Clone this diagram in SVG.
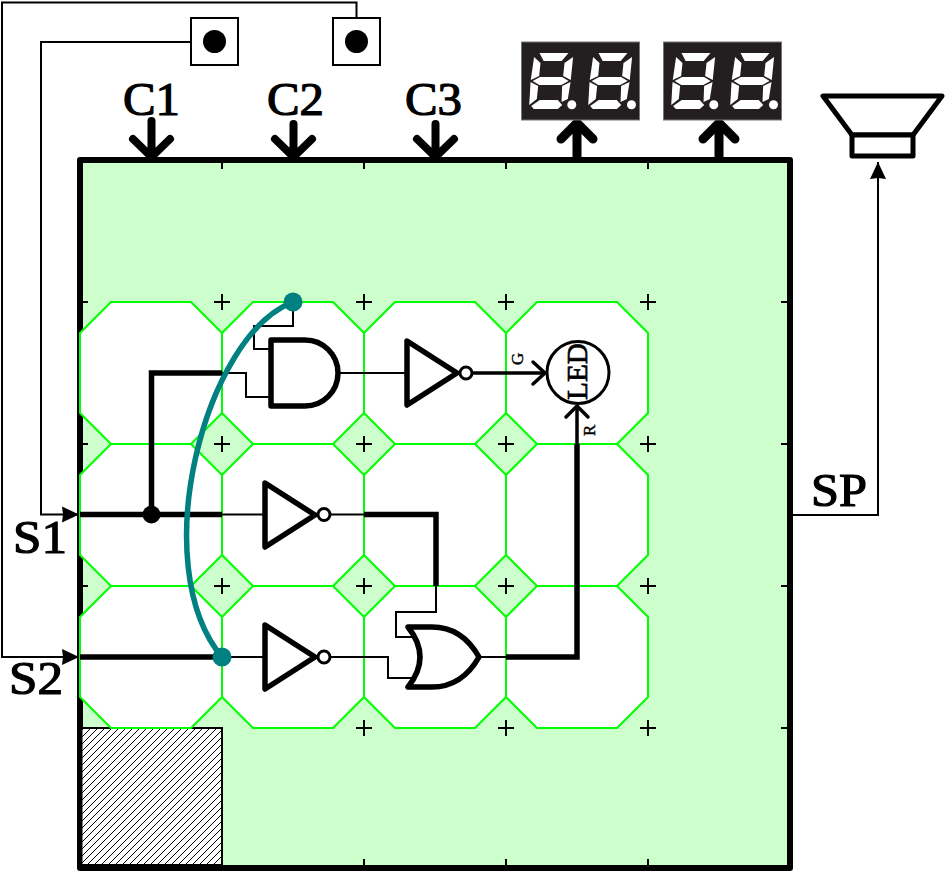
<svg xmlns="http://www.w3.org/2000/svg" xmlns:xlink="http://www.w3.org/1999/xlink" width="945" height="872" viewBox="0 0 945 872">
<style>
.t{font-family:"Liberation Serif","Times New Roman",serif;fill:#000;stroke:#000;stroke-width:1.2}
.oct{fill:#fff;stroke:#00ff00;stroke-width:2}
.w{fill:none;stroke:#000;stroke-width:2}
.m{fill:none;stroke:#000;stroke-width:3.5}
.b{fill:none;stroke:#000;stroke-width:5.5}
.big{fill:none;stroke:#000;stroke-width:8;stroke-linecap:round;stroke-linejoin:round}
.big2{fill:none;stroke:#000;stroke-width:9;stroke-linecap:round;stroke-linejoin:round}
.gate{fill:#fff;stroke:#000;stroke-width:5.5;stroke-linejoin:round}
.bub{fill:#fff;stroke:#000;stroke-width:3}
.tick{stroke:#000;stroke-width:2;fill:none}
.seg{fill:#fff}
</style>
<defs>
<pattern id="hatch" patternUnits="userSpaceOnUse" width="7" height="7">
<rect width="7" height="7" fill="#fff"/>
<path d="M-1,1 L1,-1 M0,7 L7,0 M6,8 L8,6" stroke="#000" stroke-width="1"/>
</pattern>
<marker id="solid" markerUnits="userSpaceOnUse" markerWidth="18" markerHeight="18" refX="17" refY="9" orient="auto">
<path d="M0,1 L17,9 L0,17 L1,9 Z" fill="#000"/>
</marker>
<polygon id="oc" class="oct" points="31,0 111,0 142,31 142,111 111,142 31,142 0,111 0,31"/>
<g id="digit" class="seg">
<polygon points="6,0 35,0 29,8 11,8"/>
<polygon points="1,4 8,10 8,23 0,27"/>
<polygon points="40,4 40,27 32,23 32,10"/>
<polygon points="2,28 9,24 31,24 38,28 31,32 9,32"/>
<polygon points="0,29 8,33 8,46 1,52"/>
<polygon points="40,29 39,46 33,49 32,33"/>
<polygon points="11,47 29,47 34,52 30,56 6,56 3,53"/>
</g>
<g id="display">
<rect x="0" y="0" width="118" height="78" fill="#231f20" stroke="#777" stroke-width="1"/>
<use xlink:href="#digit" href="#digit" transform="translate(12,11) skewX(-5.8)"/>
<use xlink:href="#digit" href="#digit" transform="translate(71,11) skewX(-5.8)"/>
<circle cx="50.300" cy="62.700" r="4.500" fill="#fff"/>
<circle cx="110" cy="62.700" r="4.500" fill="#fff"/>
</g>
<polygon id="inv" class="gate" points="0,-32 50,0 0,32"/>
</defs>

<g id="board">
<rect x="80" y="160" width="710" height="708" fill="#ccffcc" stroke="#000" stroke-width="6" stroke-linejoin="round"/>
<rect x="80" y="728" width="142" height="140" fill="url(#hatch)" stroke="#000" stroke-width="2"/>
<path d="M80,866.500H222M80,160V868" fill="none" stroke="#000" stroke-width="5"/>
</g>
<g id="cells">
<use href="#oc" x="80" y="302"/><use href="#oc" x="222" y="302"/><use href="#oc" x="364" y="302"/><use href="#oc" x="506" y="302"/>
<use href="#oc" x="80" y="444"/><use href="#oc" x="222" y="444"/><use href="#oc" x="364" y="444"/><use href="#oc" x="506" y="444"/>
<use href="#oc" x="80" y="586"/><use href="#oc" x="222" y="586"/><use href="#oc" x="364" y="586"/><use href="#oc" x="506" y="586"/>
</g>
<g id="grid-marks">
<path class="tick" d="M214,302h16M222,294v16M356,302h16M364,294v16M498,302h16M506,294v16M640,302h16M648,294v16
M214,444h16M222,436v16M356,444h16M364,436v16M498,444h16M506,436v16M640,444h16M648,436v16
M214,586h16M222,578v16M356,586h16M364,578v16M498,586h16M506,578v16M640,586h16M648,578v16
M356,728h16M364,720v16M498,728h16M506,720v16M640,728h16M648,720v16
M222,160v9M364,160v9M506,160v9M648,160v9
M80,302h8M80,444h8M80,586h8
M781,302h9M781,444h9M781,586h9M781,728h9
M364,868v-9M506,868v-9M648,868v-9"/>
</g>

<g id="connectors">
<path class="w" d="M191,42H41V514.500H79" marker-end="url(#solid)"/>
<path class="w" d="M356.500,18V2.500H2V657H79" marker-end="url(#solid)"/>
<path class="b" d="M80,514.500H222M151.500,514.500V373H222"/>
<path class="b" d="M80,657H222"/>
<path class="w" d="M222,514.500H265M330,514.500H364"/>
<path class="b" d="M364,514.500H436V586"/>
<path class="w" d="M436,586V612H396V637H412"/>
<path class="w" d="M222,657H265M330,657H364"/>
<path class="w" d="M364,657H388V678H412"/>
<path class="w" d="M480,657H506"/>
<path class="b" d="M506,657H577V444"/>
<path class="m" d="M577,444V406"/>
<path class="m" stroke-linecap="round" stroke-linejoin="round" d="M566,417L577,406L588,417"/>
<path class="w" d="M222,373H246V397H271"/>
<path class="w" d="M293,302V326H254V349H271"/>
<path class="w" d="M338,373H407"/>
<path class="m" d="M472,373H545"/>
<path class="m" stroke-linecap="round" stroke-linejoin="round" d="M533,362L545,373L533,384"/>
<path class="big" d="M151.500,121V157M133,139L151.500,157L170,139"/>
<path class="big" d="M293.500,124V157M275,139L293.500,157L312,139"/>
<path class="big" d="M435.500,124V157M417,139L435.500,157L454,139"/>
<path class="big2" d="M577,157V123M561,139L577,123L593,139"/>
<path class="big2" d="M719,157V123M703,139L719,123L735,139"/>
<path class="w" d="M790,515H878V162" marker-end="url(#solid)"/>
<path fill="none" stroke="#008080" stroke-width="5.500" d="M293,302C205,335 145,565 222,657"/>
<circle cx="151.500" cy="514.500" r="9" fill="#000"/>
<circle cx="293" cy="302" r="9.500" fill="#008080"/>
<circle cx="222" cy="657" r="9.500" fill="#008080"/>
</g>

<g id="btn1"><rect x="191" y="18" width="47" height="47" fill="#fff" stroke="#000" stroke-width="2"/><circle cx="214.500" cy="41.500" r="11.500" fill="#000"/></g>
<g id="btn2"><rect x="333" y="18" width="47" height="47" fill="#fff" stroke="#000" stroke-width="2"/><circle cx="356.500" cy="41.500" r="11.500" fill="#000"/></g>
<g id="disp1"><use href="#display" x="521.500" y="42"/></g>
<g id="disp2"><use href="#display" x="663.500" y="42"/></g>
<g id="speaker"><path d="M823,96H942L913,135H852Z" fill="#fff" stroke="#000" stroke-width="5" stroke-linejoin="round"/><rect x="852" y="135" width="61" height="21" fill="#fff" stroke="#000" stroke-width="5" stroke-linejoin="round"/></g>

<g id="and1"><path class="gate" d="M271,340H305A33,33 0 0 1 305,406H271Z"/></g>
<g id="not1"><use href="#inv" x="407" y="373"/><circle class="bub" cx="466" cy="373" r="6"/></g>
<g id="not2"><use href="#inv" x="265" y="515"/><circle class="bub" cx="324" cy="514.500" r="6"/></g>
<g id="not3"><use href="#inv" x="265" y="657"/><circle class="bub" cx="324" cy="657" r="6"/></g>
<g id="or1"><path class="gate" d="M408,627Q432,657 408,687H432Q462,687 479,657Q462,627 432,627Z"/></g>
<g id="led"><circle cx="578" cy="372.500" r="31" fill="#fff" stroke="#000" stroke-width="3"/>
<text class="t" font-size="29" textLength="57" lengthAdjust="spacingAndGlyphs" transform="translate(587,400) rotate(-90)" style="stroke-width:.7">LED</text></g>

<g id="labels">
<text class="t" font-size="47" x="123" y="115" textLength="57" lengthAdjust="spacingAndGlyphs">C1</text>
<text class="t" font-size="47" x="267" y="115" textLength="57" lengthAdjust="spacingAndGlyphs">C2</text>
<text class="t" font-size="47" x="405" y="115" textLength="57" lengthAdjust="spacingAndGlyphs">C3</text>
<text class="t" font-size="47" x="13" y="553" textLength="54" lengthAdjust="spacingAndGlyphs">S1</text>
<text class="t" font-size="47" x="9" y="694" textLength="54" lengthAdjust="spacingAndGlyphs">S2</text>
<text class="t" font-size="47" x="811" y="506" textLength="56" lengthAdjust="spacingAndGlyphs">SP</text>
<text class="t" font-size="17" transform="translate(523,365) rotate(-90)" style="stroke-width:.4">G</text>
<text class="t" font-size="17" transform="translate(595,436) rotate(-90)" style="stroke-width:.4">R</text>
</g>
</svg>
